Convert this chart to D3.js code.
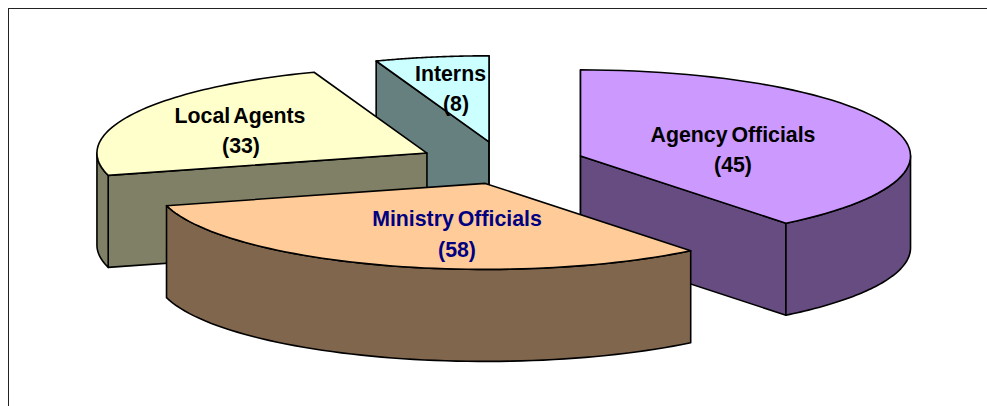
<!DOCTYPE html>
<html>
<head>
<meta charset="utf-8">
<script src="https://cdn.jsdelivr.net/npm/d3@7"></script>
<style>
    html, body { margin: 0; padding: 0; background: #fff; }
    svg { display: block; }
    text { font-family: "Liberation Sans", Arial, sans-serif; font-weight: bold; font-size: 21.3px; word-spacing: -2px; text-anchor: middle; }
</style>
</head>
<body>
<svg id="chart" width="987" height="406"></svg>
<script>
// Labels as printed on the chart
let categories = ["Agency Officials", "Ministry Officials", "Local Agents", "Interns"];
let counts = [45, 58, 33, 8];
// Size of each wedge as drawn, in degrees (they don't follow the printed counts)
let wedgeDegrees = [141.5, 113.5, 85, 20];

// Editable options
let cx = 505, cy = 163;
let rx = 330, ry = 86;
let depth = 92;
let explodeX = [80, 63, 88, 92];
let explodeY = 21.5;
let drawOrder = [3, 2, 0, 1];    // back to front
let topColors = ["#cc99ff", "#ffcc99", "#ffffcc", "#ccffff"];
let sideColors = ["#664c80", "#80664d", "#808066", "#668080"];
let textColors = ["#000", "#000080", "#000", "#000"];
let labelPos = [[733, 142], [457, 226], [240, 123], [450.5, 81]];
let count2Pos = [[733, 172], [457, 257], [241, 153], [456, 111]];

let svg = d3.select("#chart");

// Chart frame runs off the right and bottom of the picture
svg.append("rect")
    .attr("x", 8.5)
    .attr("y", 8.5)
    .attr("width", 1100)
    .attr("height", 600)
    .attr("fill", "none")
    .attr("stroke", "#222")
    .attr("stroke-width", 1);

let pie = d3.pie().sort(null).value(function (d) { return d; });
let slices = pie(wedgeDegrees);
let line = d3.line().curve(d3.curveLinear);

// Point on the ellipse of a slice, angle measured clockwise from 12 o'clock
function pointAt(apex, a, drop) {
    return [apex[0] + rx * Math.sin(a), apex[1] - ry * Math.cos(a) + (drop || 0)];
}

function arcPoints(apex, a0, a1, drop) {
    return d3.range(0, 61).map(function (i) {
        return pointAt(apex, a0 + (a1 - a0) * i / 60, drop);
    });
}

function drawPoly(g, points, fill) {
    g.append("path")
        .attr("d", line(points) + "Z")
        .attr("fill", fill)
        .attr("stroke", "#000")
        .attr("stroke-width", 1.6)
        .attr("stroke-linejoin", "round");
}

function drawCutFace(g, apex, a, fill) {
    let p = pointAt(apex, a);
    drawPoly(g, [apex, p, [p[0], p[1] + depth], [apex[0], apex[1] + depth]], fill);
}

function drawSlice(i) {
    let s = slices[i];
    let mid = (s.startAngle + s.endAngle) / 2;
    let apex = [cx + explodeX[i] * Math.sin(mid), cy - explodeY * Math.cos(mid)];
    let g = svg.append("g").attr("class", "slice");

    // Cut faces, skip the ones turned away from the viewer
    if (Math.sin(s.startAngle) <= 1e-6) drawCutFace(g, apex, s.startAngle, sideColors[i]);
    if (Math.sin(s.endAngle) >= -1e-6) drawCutFace(g, apex, s.endAngle, sideColors[i]);

    // Outer wall, only the part that faces the viewer
    let a0 = Math.max(s.startAngle, Math.PI / 2);
    let a1 = Math.min(s.endAngle, Math.PI * 1.5);
    if (a1 > a0) {
        let upper = arcPoints(apex, a0, a1, 0);
        let lower = arcPoints(apex, a0, a1, depth).reverse();
        drawPoly(g, upper.concat(lower), sideColors[i]);
    }

    // Top of the slice
    drawPoly(g, [apex].concat(arcPoints(apex, s.startAngle, s.endAngle, 0)), topColors[i]);
}

drawOrder.forEach(drawSlice);

// Labels go on last, they overlap the slice edges
categories.forEach(function (name, i) {
    svg.append("text")
        .attr("x", labelPos[i][0])
        .attr("y", labelPos[i][1])
        .attr("fill", textColors[i])
        .text(name);
    svg.append("text")
        .attr("x", count2Pos[i][0])
        .attr("y", count2Pos[i][1])
        .attr("fill", textColors[i])
        .text("(" + counts[i] + ")");
});
</script>
</body>
</html>
